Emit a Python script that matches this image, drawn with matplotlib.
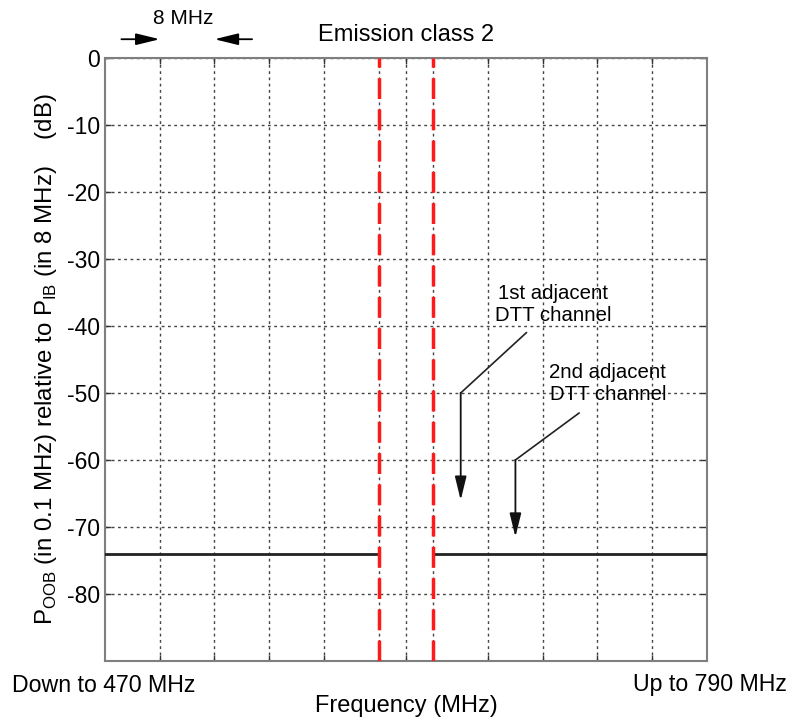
import numpy as np
import matplotlib.pyplot as plt

plt.rcParams['font.family'] = ['Liberation Sans', 'DejaVu Sans']
plt.rcParams['mathtext.fontset'] = 'custom'
plt.rcParams['mathtext.rm'] = 'Liberation Sans'
plt.rcParams['axes.unicode_minus'] = False

# frequency offset (MHz) from lower edge, emission level (dB)
mask_left_x = [0, 40]
mask_right_x = [48, 88]
mask_level = -74
block_edges = [40, 48]
x_ticks = [8, 16, 24, 32, 40, 44, 48, 56, 64, 72, 80]
y_ticks = [0, -10, -20, -30, -40, -50, -60, -70, -80]

# annotation points (data coords)
adj1_text = (65.5, -39.8)
adj1_knee = (52, -50)
adj1_tip = (52, -66)
adj1_start = (61.6, -41)
adj2_text = (73.5, -51.7)
adj2_knee = (60, -60)
adj2_tip = (60, -71.5)
adj2_start = (69.3, -53)

fig = plt.figure(figsize=(7.92, 7.23), dpi=100)
ax = fig.add_axes([0.1326, 0.0858, 0.760, 0.834])

ax.set_xlim(0, 88)
ax.set_ylim(-90, 0)
ax.set_xticks(x_ticks)
ax.set_xticklabels([])
ax.set_yticks(y_ticks)
ax.tick_params(axis='both', direction='in', top=True, right=True,
               length=4, width=1, labelsize=16.5, color='#333333')
ax.grid(True, linestyle=(0, (2, 2.5)), color='#444444', linewidth=1)
for s in ax.spines.values():
    s.set_color('#7f7f7f')
    s.set_linewidth(1.5)

ax.plot(mask_left_x, [mask_level, mask_level], color='#222222', lw=2, zorder=3)
ax.plot(mask_right_x, [mask_level, mask_level], color='#222222', lw=2, zorder=3)
for bx in block_edges:
    ax.axvline(bx, color='#ff1a1a', lw=2.5, linestyle=(0, (6, 3)), zorder=4)

head = '-|>,head_width=0.22,head_length=0.9'

# adjacent channel annotations
for txt, pos, start, knee, tip in [
        ('1st adjacent\nDTT channel', adj1_text, adj1_start, adj1_knee, adj1_tip),
        ('2nd adjacent\nDTT channel', adj2_text, adj2_start, adj2_knee, adj2_tip)]:
    ax.text(pos[0], pos[1], txt, ha='center', va='bottom', fontsize=14.7,
            linespacing=1.2, zorder=5)
    ax.plot([start[0], knee[0]], [start[1], knee[1]], color='#222222', lw=1.2, zorder=5)
    ax.annotate('', xy=tip, xytext=knee,
                arrowprops=dict(arrowstyle=head, color='#111111', lw=1.3,
                                mutation_scale=16, shrinkA=0, shrinkB=0), zorder=5)

# 8 MHz marker above the plot
ax.annotate('', xy=(8, 2.8), xytext=(2.4, 2.8), annotation_clip=False,
            arrowprops=dict(arrowstyle=head, color='black', lw=1.3,
                            mutation_scale=16, shrinkA=0, shrinkB=0))
ax.annotate('', xy=(16, 2.8), xytext=(21.5, 2.8), annotation_clip=False,
            arrowprops=dict(arrowstyle=head, color='black', lw=1.3,
                            mutation_scale=16, shrinkA=0, shrinkB=0))
ax.text(11.4, 5.9, '8 MHz', ha='center', va='center', fontsize=15, clip_on=False)

ax.set_title('Emission class 2', fontsize=17, pad=12)
ax.set_ylabel(r'P$_{\mathregular{OOB}}$ (in 0.1 MHz) relative to P$_{\mathregular{IB}}$ (in 8 MHz)    (dB)',
              fontsize=17.3, labelpad=6)

fig.text(12 / 792, 1 - 685 / 723, 'Down to 470 MHz', ha='left', va='center', fontsize=16.7)
fig.text(787 / 792, 1 - 685 / 723, 'Up to 790 MHz', ha='right', va='center', fontsize=16.7)
fig.text(406 / 792, 1 - 706 / 723, 'Frequency (MHz)', ha='center', va='center', fontsize=17)

fig.savefig('out.png', dpi=100)
